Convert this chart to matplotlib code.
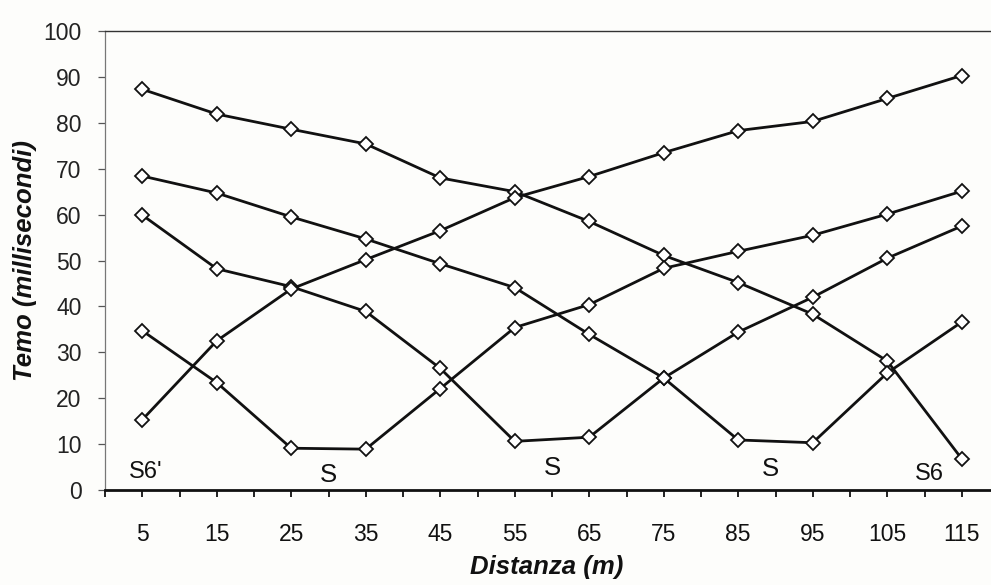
import matplotlib
matplotlib.use("Agg")
import matplotlib.pyplot as plt
from matplotlib.ticker import FixedLocator

# distanza (m) e tempi
distanza = [5, 15, 25, 35, 45, 55, 65, 75, 85, 95, 105, 115]
serie_1 = [87.3, 81.9, 78.6, 75.4, 68.0, 65.0, 58.5, 51.1, 45.2, 38.3, 28.1, 6.8]
serie_2 = [68.4, 64.7, 59.5, 54.7, 49.3, 44.1, 33.9, 24.4, 10.9, 10.3, 25.5, 36.6]
serie_3 = [34.7, 23.4, 9.1, 8.9, 22.1, 35.4, 40.4, 48.3, 52.0, 55.5, 60.1, 65.1]
serie_4 = [59.9, 48.2, 44.3, 38.9, 26.5, 10.6, 11.5, 24.4, 34.4, 42.0, 50.5, 57.5]
serie_5 = [15.3, 32.5, 43.8, 50.2, 56.5, 63.7, 68.3, 73.5, 78.3, 80.3, 85.3, 90.3]

etichette = ["S6'", "S", "S", "S", "S6"]
etich_x = [5.5, 30, 60, 89.3, 110.7]
etich_y = [3.9, 3.2, 4.9, 4.5, 3.5]
etich_size = [17, 18.5, 18.5, 18.5, 17]

plt.rcParams["font.family"] = ["Liberation Sans", "DejaVu Sans"]

W, H = 991, 585
fig = plt.figure(figsize=(W / 100, H / 100), dpi=100)
fig.patch.set_facecolor("#fdfdfb")

ax_left, ax_right = 105, 999
ax_top, ax_bot = 31, 490
ax = fig.add_axes([ax_left / W, (H - ax_bot) / H,
                   (ax_right - ax_left) / W, (ax_bot - ax_top) / H])
ax.set_facecolor("#fdfdfb")

for s in [serie_1, serie_2, serie_3, serie_4, serie_5]:
    ax.plot(distanza, s, color="#111111", lw=2.0, marker="D", ms=7.5,
            mfc="white", mec="#111111", mew=1.3, zorder=3, clip_on=False)

for t, x, y, fs in zip(etichette, etich_x, etich_y, etich_size):
    ax.text(x, y, t, ha="center", va="center", fontsize=fs, color="#111111")

ax.set_xlim(0, 120)
ax.set_ylim(0, 100)

ax.xaxis.set_major_locator(FixedLocator(distanza))
ax.xaxis.set_minor_locator(FixedLocator(list(range(0, 125, 10))))
ax.set_yticks(range(0, 101, 10))

ax.tick_params(axis="x", which="both", direction="out", length=5, width=1.3,
               color="#111111", pad=19, labelsize=16.5, labelcolor="#111111")
ax.tick_params(axis="y", direction="out", length=5, width=0.9,
               color="#555555", pad=12, labelsize=16.5, labelcolor="#222222")

ax.spines["right"].set_visible(False)
ax.spines["bottom"].set_linewidth(2.0)
ax.spines["bottom"].set_color("#111111")
ax.spines["left"].set_linewidth(0.9)
ax.spines["left"].set_color("#777777")
ax.spines["top"].set_linewidth(1.0)
ax.spines["top"].set_color("#333333")

ax.set_ylabel("Temo (millisecondi)", fontsize=18.5, fontweight="bold",
              fontstyle="italic", color="#111111")
ax.yaxis.set_label_coords(-0.076, 0.5)
ax.set_xlabel("Distanza (m)", fontsize=18.5, fontweight="bold",
              fontstyle="italic", color="#111111")
ax.xaxis.set_label_coords(0.494, -0.1416)

fig.savefig("out.png", dpi=100, facecolor=fig.get_facecolor())
